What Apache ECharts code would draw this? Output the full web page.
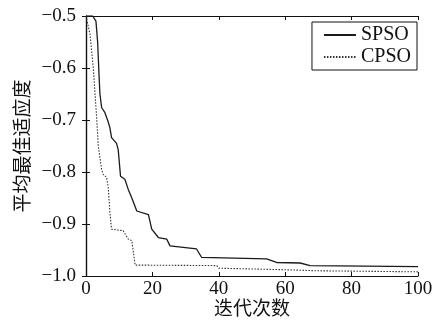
<!DOCTYPE html>
<html>
<head>
<meta charset="utf-8">
<script src="https://cdn.jsdelivr.net/npm/echarts@6/dist/echarts.min.js"></script>
<style>
  html, body { margin: 0; padding: 0; background: #fff; }
  #chart { width: 438px; height: 322px; }
</style>
</head>
<body>
<div id="chart"></div>
<script>
const spsoIter = [0, 2, 3, 3.5, 3.9, 4.2, 4.7, 5.7, 6.7, 7.2, 7.7, 9.2, 9.7, 10.4, 11.7, 12.7, 13.8, 15.3, 18.8, 19.8, 21.8, 24.3, 25.3, 33.3, 34.8, 54.4, 57.4, 64.5, 67.5, 100]
const spsoFit = [-0.5, -0.5, -0.51, -0.55, -0.61, -0.65, -0.676, -0.686, -0.704, -0.715, -0.734, -0.745, -0.757, -0.808, -0.814, -0.833, -0.85, -0.875, -0.882, -0.91, -0.926, -0.929, -0.942, -0.948, -0.964, -0.967, -0.974, -0.975, -0.98, -0.982]
const cpsoIter = [0, 0.4, 1.2, 2.2, 3.2, 3.7, 4.7, 5.2, 6.2, 6.7, 7.2, 7.7, 11.2, 12.7, 13.8, 14.8, 39.4, 40, 60, 70, 100]
const cpsoFit = [-0.5, -0.5, -0.535, -0.6, -0.695, -0.75, -0.795, -0.805, -0.81, -0.83, -0.878, -0.91, -0.913, -0.929, -0.932, -0.979, -0.98, -0.985, -0.988, -0.99, -0.992]
const xTicks = [0, 20, 40, 60, 80, 100]
const yTicks = [-1.0, -0.9, -0.8, -0.7, -0.6, -0.5]

const serif = 'Liberation Serif'
const cjk = 'Noto Sans CJK SC'
const pair = (xs, ys) => xs.map((x, i) => [x, ys[i]])

const chart = echarts.init(document.getElementById('chart'))
const axisLine = { show: true, lineStyle: { color: '#111', width: 1.2 } }
const tick = { show: true, inside: true, length: 4, lineStyle: { color: '#111' } }

const option = {
  animation: false,
  grid: { left: 86, right: 20, top: 16, bottom: 46, outerBoundsMode: 'none' },
  legend: {
    right: 21,
    top: 22,
    orient: 'vertical',
    itemWidth: 32,
    itemHeight: 8,
    itemGap: 2,
    padding: [3, 6, 3, 11],
    borderColor: '#111',
    borderWidth: 1,
    backgroundColor: '#fff',
    itemStyle: { opacity: 0 },
    textStyle: { fontFamily: serif, fontSize: 20, color: '#111' },
    data: ['SPSO', 'CPSO']
  },
  xAxis: [
    {
      type: 'value',
      min: 0, max: 100, interval: 20,
      name: '迭代次数',
      nameLocation: 'middle',
      nameGap: 22,
      nameMoveOverlap: false,
      nameTextStyle: { fontFamily: cjk, fontSize: 19, color: '#111' },
      axisLine, axisTick: tick,
      axisLabel: { margin: 4, fontFamily: serif, fontSize: 19, color: '#111',
        formatter: v => xTicks.includes(v) ? String(v) : '' },
      splitLine: { show: false }
    },
    {
      type: 'value', position: 'top',
      min: 0, max: 100, interval: 20,
      axisLine, axisTick: tick, axisLabel: { show: false }, splitLine: { show: false }
    }
  ],
  yAxis: [
    {
      type: 'value',
      min: -1.0, max: -0.5, interval: 0.1,
      name: '平均最佳适应度',
      nameLocation: 'middle',
      nameGap: 55,
      nameMoveOverlap: false,
      nameTextStyle: { fontFamily: cjk, fontSize: 19, color: '#111' },
      axisLine, axisTick: tick,
      axisLabel: { margin: 10, fontFamily: serif, fontSize: 19, color: '#111',
        formatter: v => {
          const t = yTicks.find(k => Math.abs(k - v) < 1e-6)
          return t === undefined ? '' : '\u2212' + Math.abs(t).toFixed(1)
        } },
      splitLine: { show: false }
    },
    {
      type: 'value', position: 'right',
      min: -1.0, max: -0.5, interval: 0.1,
      axisLine, axisTick: tick, axisLabel: { show: false }, splitLine: { show: false }
    }
  ],
  series: [
    {
      name: 'SPSO',
      type: 'line',
      data: pair(spsoIter, spsoFit),
      symbol: 'none',
      lineStyle: { color: '#1a1a1a', width: 1.3, type: 'solid' },
      itemStyle: { color: '#1a1a1a' }
    },
    {
      name: 'CPSO',
      type: 'line',
      data: pair(cpsoIter, cpsoFit),
      symbol: 'none',
      lineStyle: { color: '#333', width: 1.1, type: [1.5, 1.5] },
      itemStyle: { color: '#333' }
    }
  ]
}
chart.setOption(option)
</script>
</body>
</html>
